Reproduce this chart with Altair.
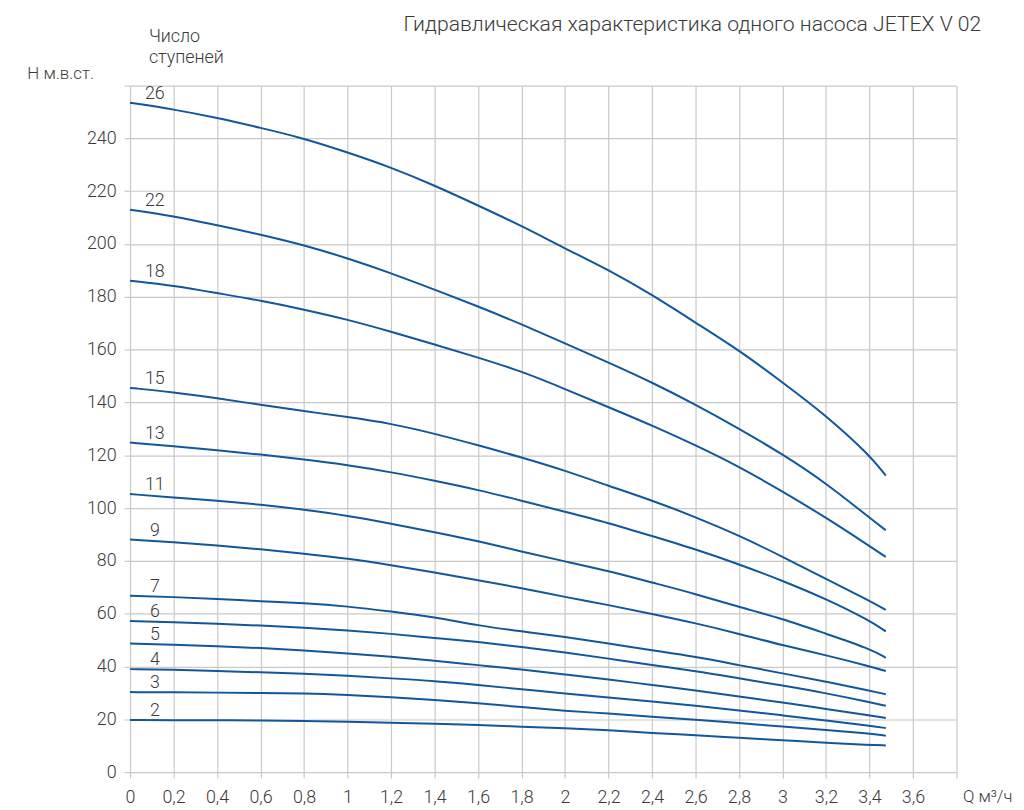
import altair as alt
import pandas as pd

# Flow rate points (m3/h)
Q = [0, 0.2, 0.4, 0.6, 0.8, 1.0, 1.2, 1.4, 1.6, 1.8, 2.0, 2.2, 2.4, 2.6, 2.8, 3.0, 3.2, 3.4, 3.475]

STAGES = [26, 22, 18, 15, 13, 11, 9, 7, 6, 5, 4, 3, 2]

h26 = [253.5, 251, 247.8, 244, 240, 234.7, 229, 222.2, 214.6, 206.9, 198.3, 190.2, 180.8, 170.2, 159.8, 147.6, 135.1, 120.1, 112.3]
h22 = [213, 210.6, 207.1, 203.6, 199.6, 194.6, 189, 182.7, 176.4, 169.6, 162.4, 155.1, 147.6, 139.2, 130.1, 120.4, 109.5, 96.3, 91.6]
h18 = [186.1, 184.3, 181.4, 178.6, 175.2, 171.4, 166.8, 162, 157, 151.8, 145.1, 138.2, 131.3, 123.8, 115.7, 106.3, 96.4, 85.6, 81.5]
h15 = [145.5, 143.9, 141.6, 139.1, 136.7, 134.5, 132, 128.2, 123.8, 119.2, 114.2, 108.4, 102.9, 96.6, 89.6, 81.6, 73.1, 64.9, 61.4]
h13 = [124.8, 123.4, 121.9, 120.3, 118.4, 116.3, 113.6, 110.4, 106.9, 102.8, 98.6, 94.4, 89.4, 84.4, 78.7, 72.5, 65.6, 57.4, 53.3]
h11 = [105.3, 104, 102.8, 101.3, 99.4, 97.1, 94.1, 90.9, 87.5, 83.5, 79.8, 76.2, 71.8, 67.5, 62.5, 58.1, 52.4, 46.8, 43.3]
h9 = [88.1, 87.1, 85.9, 84.4, 82.7, 80.9, 78.4, 75.6, 72.7, 69.7, 66.3, 63.3, 59.9, 56.4, 52.4, 48, 44.3, 40.1, 38.3]
h7 = [66.8, 66.3, 65.6, 64.7, 64, 62.8, 60.8, 58.7, 55.5, 53.3, 51.2, 48.7, 46.1, 43.7, 40.5, 37.4, 34.3, 30.8, 29.5]
h6 = [57.2, 56.8, 56.2, 55.5, 54.7, 53.7, 52.4, 50.8, 49.3, 47.4, 45.4, 43, 40.5, 38.3, 35.5, 32.8, 29.9, 26.5, 25.1]
h5 = [48.7, 48.3, 47.7, 47, 46.1, 44.9, 43.7, 42.2, 40.5, 38.9, 37, 35.1, 33, 31, 28.6, 26.4, 23.9, 21.5, 20.5]
h4 = [39, 38.8, 38.3, 37.8, 37.3, 36.5, 35.5, 34.5, 33, 31.4, 29.7, 28.3, 26.8, 25.1, 23.4, 21.5, 19.6, 17.6, 16.7]
h3 = [30.3, 30.2, 30.1, 30, 29.8, 29.2, 28.4, 27.4, 26.1, 24.6, 23.2, 22.2, 21, 19.8, 18.6, 17.2, 16, 14.6, 13.8]
h2 = [19.7, 19.7, 19.6, 19.6, 19.4, 19.1, 18.7, 18.3, 17.9, 17.2, 16.6, 15.9, 14.8, 14, 13, 12.1, 11.1, 10.3, 10.1]

HEADS = [h26, h22, h18, h15, h13, h11, h9, h7, h6, h5, h4, h3, h2]

X_TICKS = [0, 0.2, 0.4, 0.6, 0.8, 1.0, 1.2, 1.4, 1.6, 1.8, 2.0, 2.2, 2.4, 2.6, 2.8, 3.0, 3.2, 3.4, 3.6, 3.8]
Y_TICKS = [0, 10, 20, 30, 40, 50, 60, 70, 80, 90, 100, 110, 120, 130, 140, 150, 160, 170, 180,
           190, 200, 210, 220, 230, 240, 250, 260]

TITLE = "Гидравлическая характеристика одного насоса JETEX V 02"
Y_TITLE = "H м.в.ст."
X_TITLE = "Q м³/ч"
CAPTION = "Число\nступеней"

BLUE = "#11579a"
GRID = "#c9c9c9"
TEXT = "#3a3a3a"
FONT = "Roboto"

rows = []
for s, hs in zip(STAGES, HEADS):
    for q, h in zip(Q, hs):
        rows.append({"stage": s, "Q": q, "H": h})
df = pd.DataFrame(rows)
lab_df = pd.DataFrame({"stage": [str(s) for s in STAGES], "Q": [Q[0]] * len(STAGES), "H": [hs[0] for hs in HEADS]})

x_enc = alt.X(
    "Q:Q",
    scale=alt.Scale(domain=[0, 3.8], nice=False, zero=False),
    axis=alt.Axis(
        values=X_TICKS,
        labelExpr="datum.value > 3.7 ? '' : replace(format(datum.value, '.1~f'), '.', ',')",
        grid=True, gridColor=GRID, gridWidth=1.2,
        domain=False,
        ticks=True, tickColor=GRID, tickSize=6, tickWidth=1.2,
        labelFont=FONT, labelFontSize=18, labelFontWeight=300, labelColor=TEXT,
        labelPadding=11, labelFlush=False, labelOverlap=False,
        title=X_TITLE, titleFont=FONT, titleFontSize=17, titleFontWeight=300, titleColor=TEXT,
        titleX=839, titleY=30, titleAlign="left", titleBaseline="alphabetic", titleAngle=0,
    ),
)
y_enc = alt.Y(
    "H:Q",
    scale=alt.Scale(domain=[0, 260], nice=False),
    axis=alt.Axis(
        values=Y_TICKS,
        labelExpr="(datum.value % 20 == 0 && datum.value <= 240) ? datum.label : ''",
        grid=True, gridColor=GRID, gridWidth=1.2,
        domain=False,
        ticks=True, tickColor=GRID, tickSize=6, tickWidth=1.2,
        labelFont=FONT, labelFontSize=18, labelFontWeight=300, labelColor=TEXT,
        labelPadding=8, labelOverlap=False,
        title=Y_TITLE, titleFont=FONT, titleFontSize=17, titleFontWeight=300, titleColor=TEXT,
        titleX=-104, titleY=-7, titleAlign="left", titleBaseline="alphabetic", titleAngle=0,
    ),
)

lines = alt.Chart(df).mark_line(color=BLUE, strokeWidth=2, interpolate="basis").encode(
    x=x_enc, y=y_enc, detail="stage:N"
)

labels = alt.Chart(lab_df).mark_text(
    align="center", baseline="alphabetic", dx=25, dy=-4,
    font=FONT, fontSize=18, fontWeight=300, color=TEXT,
).encode(x="Q:Q", y="H:Q", text="stage:N")

caption = alt.Chart(pd.DataFrame({"t": [CAPTION]})).mark_text(
    align="left", baseline="alphabetic", lineBreak="\n", lineHeight=21,
    font=FONT, fontSize=18, fontWeight=300, color=TEXT,
).encode(x=alt.value(19), y=alt.value(-44), text="t:N")

title = alt.Chart(pd.DataFrame({"t": [TITLE]})).mark_text(
    align="right", baseline="alphabetic",
    font=FONT, fontSize=21.3, fontWeight=300, color=TEXT,
).encode(x=alt.value(858), y=alt.value(-55), text="t:N")

chart = alt.layer(lines, labels, caption, title).properties(
    width=833, height=692,
    padding={"left": 123, "top": 75, "right": 60, "bottom": 33},
    autosize=alt.AutoSizeParams(type="none"),
).configure_view(stroke=None)

chart.save("out.html", embed_options={"renderer": "svg", "actions": False})
